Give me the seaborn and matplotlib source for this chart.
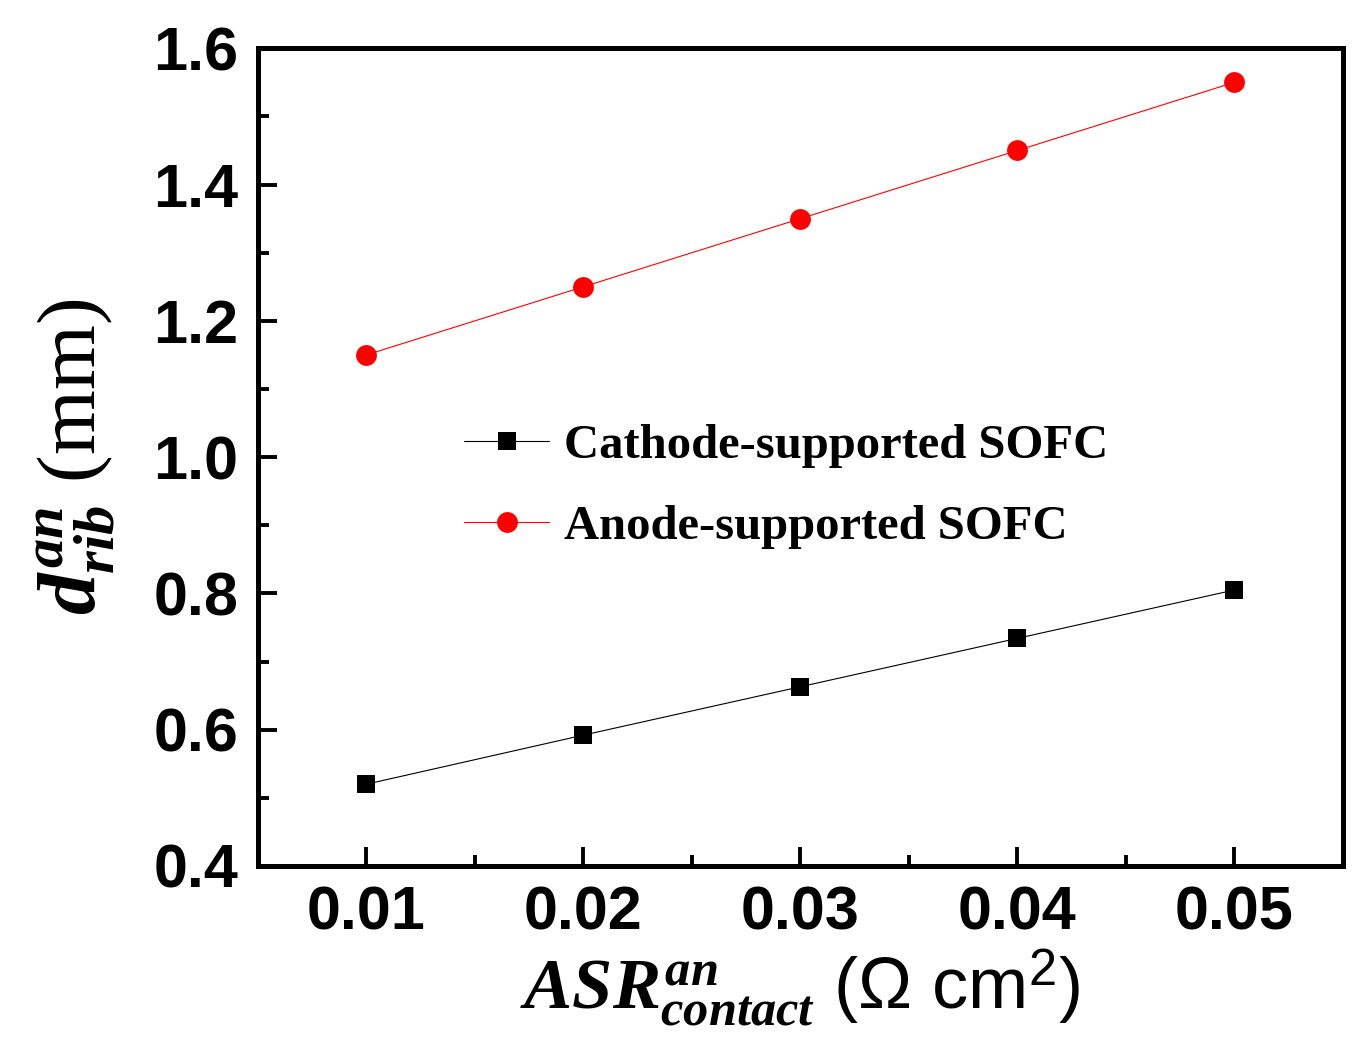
import numpy as np
import pandas as pd
import matplotlib
matplotlib.use("Agg")
import matplotlib.pyplot as plt
import seaborn as sb
from matplotlib.ticker import MultipleLocator

# data
asr_contact = [0.01, 0.02, 0.03, 0.04, 0.05]
d_rib_cathode = [0.520, 0.592, 0.663, 0.734, 0.805]
d_rib_anode = [1.15, 1.25, 1.35, 1.45, 1.55]
series_names = ["Cathode-supported SOFC", "Anode-supported SOFC"]

sb.set_style("ticks")
plt.rcParams["font.family"] = ["Liberation Sans", "DejaVu Sans"]
plt.rcParams["mathtext.fontset"] = "custom"
plt.rcParams["mathtext.it"] = "Liberation Serif:italic:bold"
plt.rcParams["mathtext.bf"] = "Liberation Serif:italic:bold"
plt.rcParams["mathtext.rm"] = "Liberation Sans"
for k in ["text.color", "axes.labelcolor", "xtick.color", "ytick.color", "axes.edgecolor"]:
    plt.rcParams[k] = "black"

df = pd.DataFrame({
    "asr": asr_contact * 2,
    "d": d_rib_cathode + d_rib_anode,
    "cell": [series_names[0]] * 5 + [series_names[1]] * 5,
})

fig = plt.figure(figsize=(13.62, 10.49), dpi=100)
ax = fig.add_axes([0.1894, 0.1745, 0.7966, 0.7795])

sb.lineplot(data=df[df.cell == series_names[0]], x="asr", y="d", ax=ax,
            color="black", marker="s", markersize=13, markeredgewidth=0,
            linewidth=0.8, label=series_names[0])
sb.lineplot(data=df[df.cell == series_names[1]], x="asr", y="d", ax=ax,
            color="#ff0000", marker="o", markersize=15, markeredgewidth=0,
            linewidth=0.8, label=series_names[1])

ax.set_xlim(0.005, 0.055)
ax.set_ylim(0.4, 1.6)
ax.set_xticks(asr_contact)
ax.set_xticklabels(["0.01", "0.02", "0.03", "0.04", "0.05"])
ax.set_yticks([0.4, 0.6, 0.8, 1.0, 1.2, 1.4, 1.6])
ax.set_yticklabels(["0.4", "0.6", "0.8", "1.0", "1.2", "1.4", "1.6"])
ax.xaxis.set_minor_locator(MultipleLocator(0.005))
ax.yaxis.set_minor_locator(MultipleLocator(0.1))

for s in ax.spines.values():
    s.set_linewidth(3.6)
    s.set_color("black")
    s.set_visible(True)
ax.tick_params(which="major", direction="in", length=14, width=2.8,
               labelsize=44, pad=14, top=False, right=False, colors="black")
ax.tick_params(which="minor", direction="in", length=8, width=2.8,
               top=False, right=False, colors="black")
for lab in ax.get_xticklabels() + ax.get_yticklabels():
    lab.set_fontweight("bold")

ax.set_xlabel(r"$ASR^{an}_{contact}$ ($\Omega$ cm$^{2}$)", fontsize=52)
ax.xaxis.set_label_coords(0.5, -0.1)
ax.set_ylabel(r"$d^{an}_{rib}$ (mm)", fontsize=60, family="Liberation Serif")
ax.yaxis.set_label_coords(-0.13, 0.5)

leg = ax.legend(loc="upper left", bbox_to_anchor=(0.19, 0.54), frameon=False,
                borderpad=0, borderaxespad=0, handlelength=1.75,
                handletextpad=0.3, labelspacing=0.75,
                prop={"family": "Liberation Serif", "weight": "bold", "size": 35})

fig.savefig("out.png", dpi=100, facecolor="white")
